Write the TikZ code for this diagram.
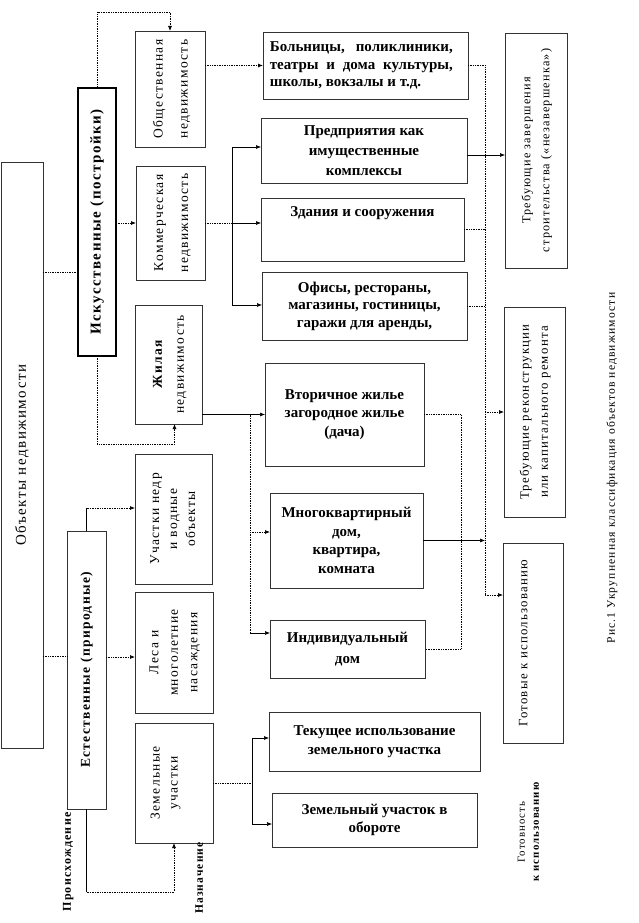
\documentclass[tikz,border=0pt]{standalone}
\usepackage{fontspec}
\setmainfont{Liberation Serif}
\newfontfamily\monof[LetterSpace=10]{Liberation Serif}
\usetikzlibrary{arrows.meta}
\newcommand{\vtext}[3]{\rotatebox{90}{\fontsize{#1}{#2}\selectfont\begin{tabular}{@{}c@{}}#3\end{tabular}}}
\begin{document}
\begin{tikzpicture}[x=1pt,y=-1pt,
  bx/.style={draw=black!80, line width=0.6pt, inner sep=0pt, outer sep=0pt},
  vb/.style={bx, font=\monof},
  hb/.style={bx, font=\bfseries\fontsize{15}{18.5}\selectfont, align=center},
  htxt/.style={font=\bfseries\fontsize{15}{18.5}\selectfont, inner sep=0pt},
  dl/.style={line width=0.7pt, densely dotted},
  sl/.style={line width=0.6pt},
  ar/.style={-{Latex[length=5pt,width=4pt]}},
]
\fill[white] (0,0) rectangle (638,923);
\useasboundingbox (0,0) rectangle (638,923);

% left column
\node[vb, minimum width=42pt, minimum height=586pt] (obj) at (22,455) {\vtext{15}{19}{Объекты недвижимости}};
\node[vb, draw=black, line width=1.8pt, minimum width=38pt, minimum height=268pt, font=\monof\bfseries] (isk) at (97,222) {\vtext{15}{18}{Искусственные (постройки)}};
\node[vb, minimum width=39pt, minimum height=278pt, font=\monof\bfseries] (est) at (86.5,670) {\vtext{13.5}{17}{Естественные (природные)}};

% second column
\node[vb, minimum width=70pt, minimum height=116pt] (obsch) at (170,89) {\vtext{13.5}{25}{Общественная\\недвижимость}};
\node[vb, minimum width=69pt, minimum height=114pt] (komm) at (170.5,223) {\vtext{13.5}{25}{Коммерческая\\недвижимость}};
\node[vb, minimum width=67pt, minimum height=119pt] (zhil) at (168.5,364.5) {\vtext{13.5}{22}{\bfseries Жилая\\недвижимость}};
\node[vb, minimum width=77pt, minimum height=130pt] (nedr) at (173.5,519) {\vtext{13.5}{18}{Участки недр\\и водные\\объекты}};
\node[vb, minimum width=78pt, minimum height=121pt] (lesa) at (174,652.5) {\vtext{13.5}{19.5}{Леса и\\многолетние\\насаждения}};
\node[vb, minimum width=78pt, minimum height=120pt] (zem) at (174,783) {\vtext{13.5}{18}{Земельные\\участки\\ \mbox{}}};

% third column
\node[hb, minimum width=205pt, minimum height=67pt, align=left, font=\bfseries\fontsize{15}{17.5}\selectfont] (boln) at (365.5,65.5) {\makebox[183pt][s]{Больницы, поликлиники,}\\\makebox[183pt][s]{театры и дома культуры,}\\школы, вокзалы и т.д.\hspace*{40pt}};
\node[hb, minimum width=206pt, minimum height=65pt, font=\bfseries\fontsize{15}{20}\selectfont] (pred) at (364,150.5) {Предприятия как\\имущественные\\комплексы};
\node[bx, minimum width=203pt, minimum height=63pt] (zdan) at (362.5,229.5) {};
\node[htxt] (zdant) at (362.5,213) {Здания и сооружения};
\node[hb, minimum width=205pt, minimum height=68pt, font=\bfseries\fontsize{15}{17.5}\selectfont] (ofis) at (364.5,306) {Офисы, рестораны,\\магазины, гостиницы,\\гаражи для аренды,};
\node[hb, minimum width=159pt, minimum height=103pt] (vtor) at (344.5,414.5) {Вторичное жилье\\загородное жилье\\(дача)};
\node[hb, minimum width=153pt, minimum height=95pt] (mnog) at (346.5,540.5) {Многоквартирный\\дом,\\квартира,\\комната};
\node[hb, minimum width=155pt, minimum height=58pt, font=\bfseries\fontsize{15}{21}\selectfont] (indiv) at (347.5,649) {Индивидуальный\\дом};
\node[hb, minimum width=211pt, minimum height=59pt] (tek) at (374.5,741.5) {Текущее использование\\земельного участка};
\node[hb, minimum width=205pt, minimum height=54pt] (zemob) at (374.5,820) {Земельный участок в\\обороте};

% right column
\node[vb, minimum width=62pt, minimum height=235pt] (treb1) at (536,150.5) {\vtext{12.2}{19}{Требующие завершения\\строительства («незавершенка»)}};
\node[vb, minimum width=61pt, minimum height=210pt] (treb2) at (534.5,412) {\vtext{12.8}{19}{Требующие реконструкции\\или капитального ремонта}};
\node[vb, minimum width=60pt, minimum height=200pt] (gotov) at (533,643) {\vtext{12.8}{19}{Готовые к использованию\\ \mbox{}}};

% labels
\node[font=\monof\bfseries, inner sep=0pt] (proish) at (68,862) {\vtext{12}{14}{Происхождение}};
\node[font=\monof\bfseries, inner sep=0pt] (naz) at (200,878) {\vtext{11.5}{14}{Назначение}};
\node[font=\monof, inner sep=0pt] (gotovn) at (529,832) {\vtext{10.8}{14}{Готовность\\\bfseries к использованию}};
\node[font=\monof, inner sep=0pt] (cap) at (612,468) {\vtext{11.6}{14}{Рис.1 Укрупненная классификация объектов недвижимости}};

% connectors: left
\draw[dl] (obj.east |- 0,272) -- (isk.west |- 0,272);
\draw[dl] (obj.east |- 0,656) -- (est.west |- 0,656);
\draw[dl,ar] (isk.north) -- (isk.north |- 0,12) -| (obsch.north);
\draw[dl,ar] (isk.east |- komm.west) -- (komm.west);
\draw[dl,ar] (isk.south) -- (isk.south |- 0,444) -| ([xshift=6pt]zhil.south);
\draw[sl] (est.north) -- (est.north |- 0,508);
\draw[dl,ar] (est.north |- 0,508) -- (nedr.west |- 0,508);
\draw[dl,ar] (est.east |- 0,657) -- (lesa.west |- 0,657);
\draw[sl] (est.south) -- (est.south |- 0,892);
\draw[dl,ar] (est.south |- 0,892) -| (zem.south);

% connectors: middle
\draw[dl,ar] (obsch.east |- boln.west) -- (boln.west);
\coordinate (kc) at (232,223);
\draw[dl] (komm.east) -- (kc);
\draw[sl] (kc |- 0,147) -- (kc |- 0,305);
\draw[sl,ar] (kc |- 0,147) -- (pred.west |- 0,147);
\draw[sl,ar] (kc) -- (zdan.west |- kc);
\draw[sl,ar] (kc |- 0,305) -- (ofis.west |- 0,305);

\draw[sl,ar] (zhil.east |- vtor.west) -- (vtor.west);
\coordinate (zc) at (250,414.5);
\draw[dl] (zc) -- (zc |- 0,633);
\draw[dl,ar] (zc |- 0,532) -- (mnog.west |- 0,532);
\draw[sl,ar] (zc |- 0,633) -- (indiv.west |- 0,633);
\draw[dl] (vtor.east) -- (461,414.5) |- (indiv.east);

\coordinate (zm) at (252,783);
\draw[dl] (zem.east) -- (zm);
\draw[sl] (zm |- 0,738) -- (zm |- 0,824);
\draw[sl,ar] (zm |- 0,738) -- (tek.west |- 0,738);
\draw[sl,ar] (zm |- 0,824) -- (zemob.west |- 0,824);

% connectors: right
\coordinate (rt) at (485,65.5);
\draw[dl] (boln.east) -- (rt);
\draw[dl] (rt) -- (rt |- 0,595);
\draw[sl,ar] (pred.east |- 0,155) -- (treb1.west |- 0,155);
\draw[dl] (zdan.east) -- (rt |- zdan.east);
\draw[dl] (ofis.east) -- (rt |- ofis.east);
\draw[sl,ar] (mnog.east) -- (rt |- mnog.east);
\draw[dl,ar] (rt |- treb2.west) -- (treb2.west);
\draw[dl,ar] (rt |- 0,595) -- (gotov.west |- 0,595);
\end{tikzpicture}
\end{document}
